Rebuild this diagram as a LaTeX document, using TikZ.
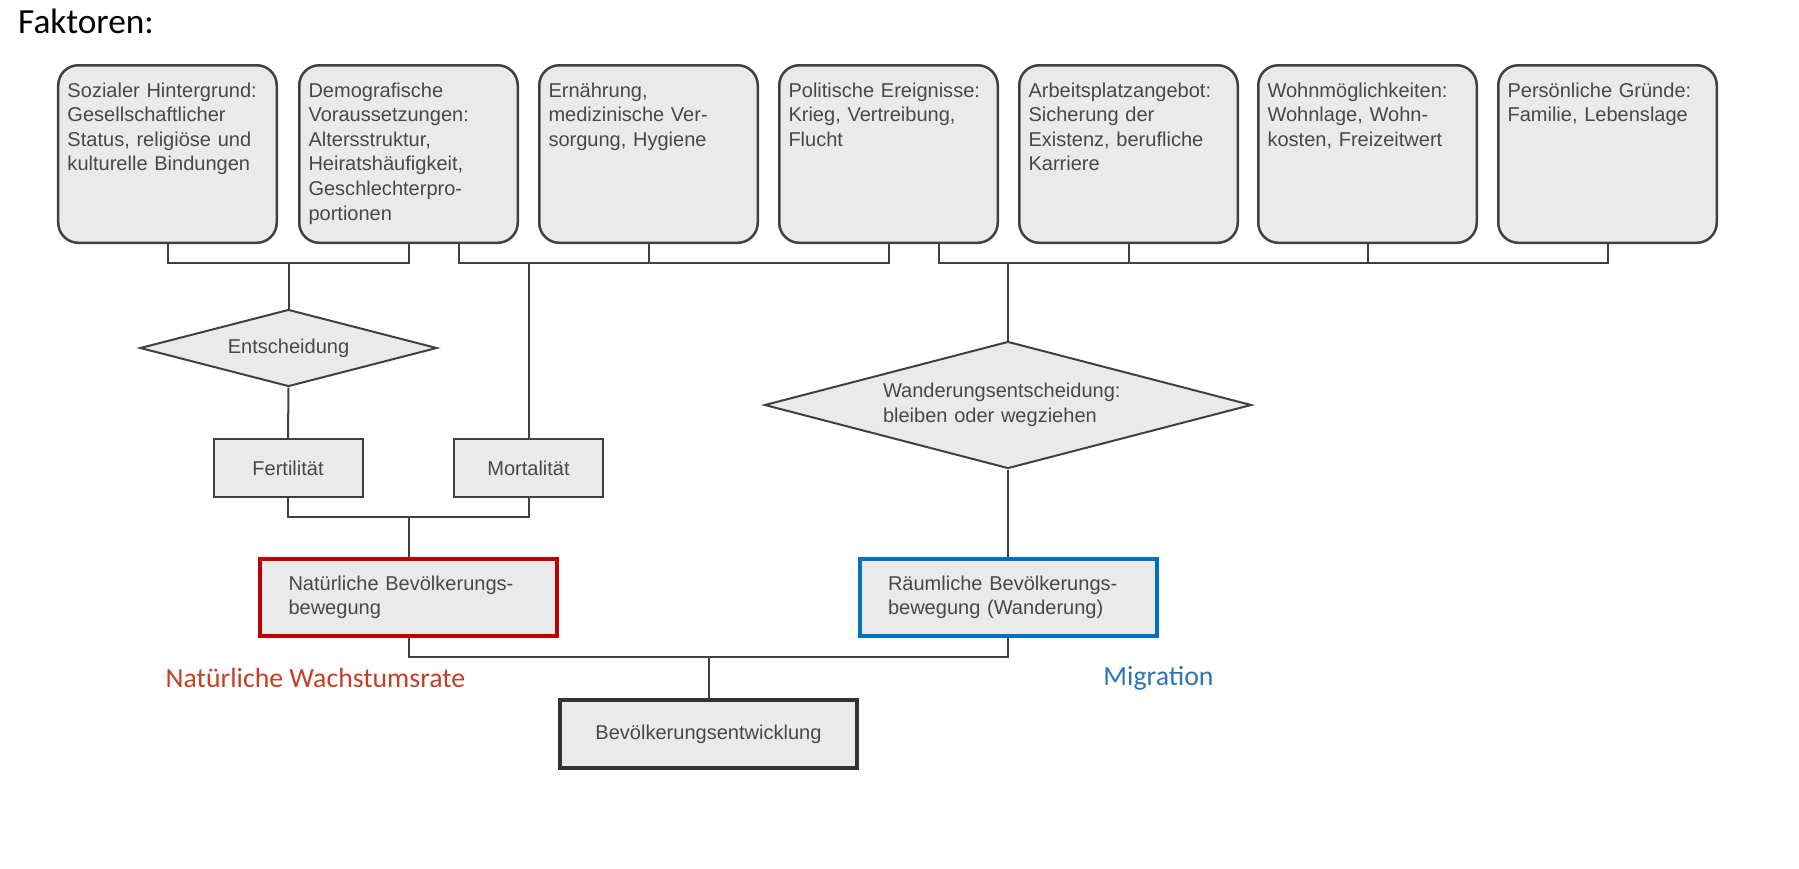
\documentclass[tikz,border=0pt]{standalone}
\usepackage{fontspec}
\setmainfont{Liberation Sans}
\newfontfamily\calibri{Carlito}
\usetikzlibrary{shapes.geometric}
\definecolor{boxfill}{RGB}{234,234,234}
\definecolor{boxline}{RGB}{64,64,64}
\definecolor{boxtext}{RGB}{72,72,72}
\definecolor{natred}{RGB}{192,0,0}
\definecolor{labred}{RGB}{197,62,38}
\definecolor{migblue}{RGB}{0,112,192}
\definecolor{labblue}{RGB}{46,117,182}

\begin{document}
\begin{tikzpicture}[x=0.2mm, y=-0.2mm]
	\tikzstyle{every node}=[font=\fontsize{11.4}{14}\selectfont, text=boxtext]
	\tikzstyle{factor}=[draw=boxline, fill=boxfill, line width=0.5mm, rounded corners=4mm, align=left, text width=40mm, inner xsep=1.85mm, inner ysep=0pt, text height=6.35mm, text depth=29.15mm]
	\tikzstyle{dec}=[diamond, draw=boxline, fill=boxfill, line width=0.4mm, inner sep=0pt, shape aspect=3.8]
	\tikzstyle{rate}=[draw=boxline, fill=boxfill, line width=0.4mm, minimum width=29.8mm, minimum height=11.6mm]
	\tikzstyle{move}=[fill=boxfill, line width=0.8mm, align=left, text width=48mm, minimum width=59.4mm, minimum height=15.4mm]
	\tikzstyle{link}=[draw=boxline, line width=0.4mm]
	\useasboundingbox (0,0) rectangle (1799,868);

	\node[font=\calibri\fontsize{20.1}{24}\selectfont, text=black, anchor=base west] (fak) at (12,33) {Faktoren:};

	\node[factor] (soz) at (167.5,154) {Sozialer Hintergrund:\\Gesellschaftlicher\\Status, religiöse und\\kulturelle Bindungen};
	\node[factor] (demo) at (408.5,154) {Demografische\\Voraussetzungen:\\Altersstruktur,\\Heiratshäufigkeit,\\Geschlechterpro-\\portionen};
	\node[factor] (ern) at (648.5,154) {Ernährung,\\medizinische Ver-\\sorgung, Hygiene};
	\node[factor] (pol) at (888.5,154) {Politische Ereignisse:\\Krieg, Vertreibung,\\Flucht};
	\node[factor] (arb) at (1128.5,154) {Arbeitsplatzangebot:\\Sicherung der\\Existenz, berufliche\\Karriere};
	\node[factor] (wohn) at (1367.5,154) {Wohnmöglichkeiten:\\Wohnlage, Wohn-\\kosten, Freizeitwert};
	\node[factor] (pers) at (1607.5,154) {Persönliche Gründe:\\Familie, Lebenslage};

	\node[dec, minimum width=59.4mm, minimum height=15.4mm] (ent) at (288.5,348) {Entscheidung};
	\node[dec, minimum width=97.4mm, minimum height=25.4mm, align=left, text width=50mm] (wand) at (1008,405) {Wanderungsentscheidung:\\bleiben oder wegziehen};

	\node[rate] (fert) at (288,468) {Fertilität};
	\node[rate] (mort) at (528.5,468) {Mortalität};

	\node[move, draw=natred] (nat) at (408.5,597.5) {Natürliche Bevölkerungs-\\bewegung};
	\node[move, draw=migblue] (raum) at (1008,597.5) {Räumliche Bevölkerungs-\\bewegung (Wanderung)};
	\node[draw=black!80, fill=boxfill, line width=0.8mm, minimum width=59.4mm, minimum height=13.6mm] (entw) at (708.5,734) {Bevölkerungsentwicklung};

	\node[font=\calibri\fontsize{15.8}{19}\selectfont, text=labred] (wrate) at (315.5,678) {Natürliche Wachstumsrate};
	\node[font=\calibri\fontsize{15.8}{19}\selectfont, text=labblue] (migr) at (1158.5,678) {Migration};

	\coordinate (bus) at (0,263);
	\coordinate (join) at (0,517);
	\coordinate (base) at (0,657);

	\draw[link] (soz.south) |- (demo.south |- bus) -- (demo.south);
	\draw[link] (ent.north) -- (ent.north |- bus);
	\draw[link] ([xshift=10mm]demo.south) |- (pol.south |- bus) -- (pol.south);
	\draw[link] (ern.south) -- (ern.south |- bus);
	\draw[link] (mort.north) -- (mort.north |- bus);
	\draw[link] ([xshift=10mm]pol.south) |- (pers.south |- bus) -- (pers.south);
	\draw[link] (arb.south) -- (arb.south |- bus);
	\draw[link] (wohn.south) -- (wohn.south |- bus);
	\draw[link] (wand.north) -- (wand.north |- bus);

	\draw[link] (ent.south) -- (fert.north);
	\draw[link] (fert.south) |- (mort.south |- join) -- (mort.south);
	\draw[link] (nat.north) -- (nat.north |- join);
	\draw[link] (wand.south) -- (raum.north);

	\draw[link] (nat.south) |- (raum.south |- base) -- (raum.south);
	\draw[link] (entw.north) -- (entw.north |- base);
\end{tikzpicture}
\end{document}
